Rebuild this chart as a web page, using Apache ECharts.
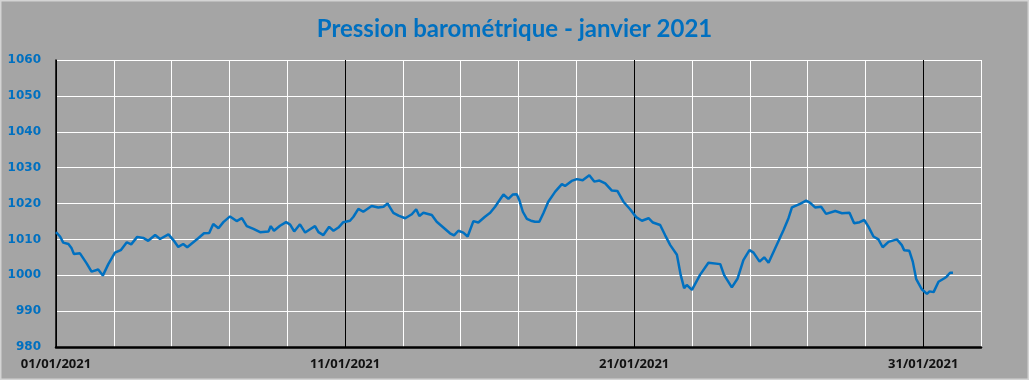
<!DOCTYPE html>
<html>
<head>
<meta charset="utf-8">
<script src="https://cdn.jsdelivr.net/npm/echarts@6/dist/echarts.min.js"></script>
<style>
html,body{margin:0;padding:0;background:#a5a5a5;}
#c{width:1029px;height:380px;}
</style>
</head>
<body>
<div id="c"></div>
<script>
// Time in days since 01/01/2021 00:00
const days = [
  0,0.14,0.25,0.43,0.54,0.62,0.83,1.06,1.23,1.46,
  1.62,1.81,2.04,2.24,2.45,2.6,2.81,3.02,3.19,3.43,
  3.6,3.89,4.06,4.23,4.4,4.54,4.75,4.92,5.12,5.3,
  5.44,5.62,5.79,6.02,6.25,6.43,6.6,6.83,7.06,7.35,
  7.43,7.54,7.75,7.96,8.1,8.24,8.44,8.62,8.79,8.96,
  9.08,9.25,9.45,9.6,9.77,9.94,10.17,10.29,10.46,10.63,
  10.92,11.15,11.33,11.47,11.67,11.85,12.08,12.31,12.46,12.57,
  12.71,13.0,13.17,13.4,13.63,13.77,13.92,14.09,14.24,14.44,
  14.61,14.84,15.02,15.19,15.36,15.48,15.65,15.8,15.94,16.03,
  16.15,16.29,16.43,16.57,16.72,16.86,17.03,17.27,17.5,17.61,
  17.84,18.02,18.22,18.45,18.62,18.8,19.0,19.23,19.42,19.63,
  19.86,20.07,20.27,20.5,20.65,20.9,21.07,21.25,21.48,21.61,
  21.73,21.82,22.0,22.28,22.57,22.98,23.11,23.38,23.58,23.78,
  23.99,24.13,24.34,24.5,24.65,24.88,25.17,25.34,25.46,25.74,
  25.95,26.09,26.26,26.47,26.64,26.96,27.19,27.45,27.61,27.8,
  27.96,28.11,28.28,28.45,28.6,28.8,29.09,29.26,29.34,29.52,
  29.64,29.76,29.95,30.13,30.22,30.36,30.53,30.72,30.81,30.93,
  31.03
];
// Pressure (hPa)
const pressure = [
  1012.0,1010.8,1009.1,1008.7,1007.5,1005.9,1006.1,1003.3,1001.0,1001.6,
  999.9,1003.1,1006.3,1007.0,1009.2,1008.6,1010.7,1010.4,1009.6,1011.2,
  1010.1,1011.4,1009.8,1007.9,1008.7,1007.8,1009.2,1010.3,1011.7,1011.8,
  1014.3,1013.1,1014.8,1016.4,1015.1,1015.9,1013.7,1012.9,1012.0,1012.2,
  1013.7,1012.4,1013.8,1014.8,1014.1,1012.2,1014.2,1011.9,1012.8,1013.7,
  1012.0,1011.2,1013.5,1012.4,1013.3,1014.8,1015.2,1016.3,1018.5,1017.7,
  1019.3,1018.9,1019.1,1020.0,1017.4,1016.6,1015.9,1017.0,1018.4,1016.5,
  1017.4,1016.8,1014.9,1013.3,1011.7,1011.1,1012.4,1011.9,1010.8,1015.1,
  1014.7,1016.3,1017.4,1019.1,1021.1,1022.5,1021.3,1022.5,1022.6,1020.9,
  1017.7,1015.7,1015.2,1014.9,1014.9,1017.3,1020.5,1023.3,1025.4,1024.9,
  1026.3,1026.8,1026.5,1027.9,1026.1,1026.4,1025.6,1023.6,1023.5,1020.5,
  1018.4,1016.2,1015.2,1015.9,1014.7,1014.0,1011.2,1008.4,1005.7,1000.1,
  996.4,997.3,995.9,1000.1,1003.5,1003.1,1000.1,996.6,999.1,1004.2,
  1007.0,1006.3,1003.8,1005.0,1003.5,1007.5,1012.6,1015.9,1018.9,1019.9,
  1020.8,1020.2,1018.9,1019.1,1017.1,1017.9,1017.3,1017.4,1014.5,1014.8,
  1015.4,1013.5,1010.8,1010.0,1007.8,1009.3,1010.0,1008.4,1007.0,1006.8,
  1003.8,998.9,996.1,994.8,995.5,995.3,998.2,999.1,999.6,1000.7,
  1000.7
];
const majorDays = [0, 10, 20, 30];
const majorLabels = ['01/01/2021', '11/01/2021', '21/01/2021', '31/01/2021'];
const titleText = 'Pression barométrique - janvier 2021';

const chart = echarts.init(document.getElementById('c'), null, {renderer: 'canvas'});
const seriesData = days.map((d, i) => [d, pressure[i]]);

chart.setOption({
  backgroundColor: '#a5a5a5',
  animation: false,
  title: {
    text: titleText,
    left: 'center',
    top: 12,
    textStyle: {color: '#0070c0', fontSize: 24, fontWeight: 'bold', fontFamily: 'Lato'}
  },
  graphic: [{
    type: 'rect', silent: true,
    shape: {x: 0.75, y: 0.75, width: 1027.5, height: 378.5},
    style: {fill: 'none', stroke: '#d4d4d4', lineWidth: 1.5}
  }],
  grid: {left: 56, right: 48, top: 60, bottom: 33, containLabel: false},
  xAxis: {
    type: 'value', min: 0, max: 32, interval: 2,
    axisLine: {show: true, onZero: false, lineStyle: {color: '#000', width: 2.5}},
    axisTick: {show: false},
    splitLine: {show: true, lineStyle: {color: '#ffffff', width: 1}},
    axisLabel: {
      margin: 11, color: '#111', fontSize: 13, fontWeight: 'bold', fontFamily: 'Noto Sans',
      formatter: function (v) {
        const k = majorDays.indexOf(v);
        return k >= 0 ? majorLabels[k] : '';
      }
    }
  },
  yAxis: {
    type: 'value', min: 980, max: 1060, interval: 10,
    axisLine: {show: true, lineStyle: {color: '#000', width: 1.5}},
    axisTick: {show: false},
    splitLine: {show: true, lineStyle: {color: '#ffffff', width: 1}},
    axisLabel: {
      margin: 15, color: '#0070c0', fontSize: 12, fontWeight: 'bold', fontFamily: 'DejaVu Sans',
      formatter: function (v) { return String(v); }
    }
  },
  series: [{
    type: 'line',
    data: seriesData,
    showSymbol: false,
    symbol: 'none',
    lineStyle: {color: '#0070c0', width: 2.5},
    z: 5,
    markLine: {
      silent: true,
      symbol: ['none', 'none'],
      label: {show: false},
      lineStyle: {color: '#000', width: 1, type: 'solid'},
      z: 3,
      data: majorDays.map(d => ({xAxis: d}))
    }
  }]
});
</script>
</body>
</html>
